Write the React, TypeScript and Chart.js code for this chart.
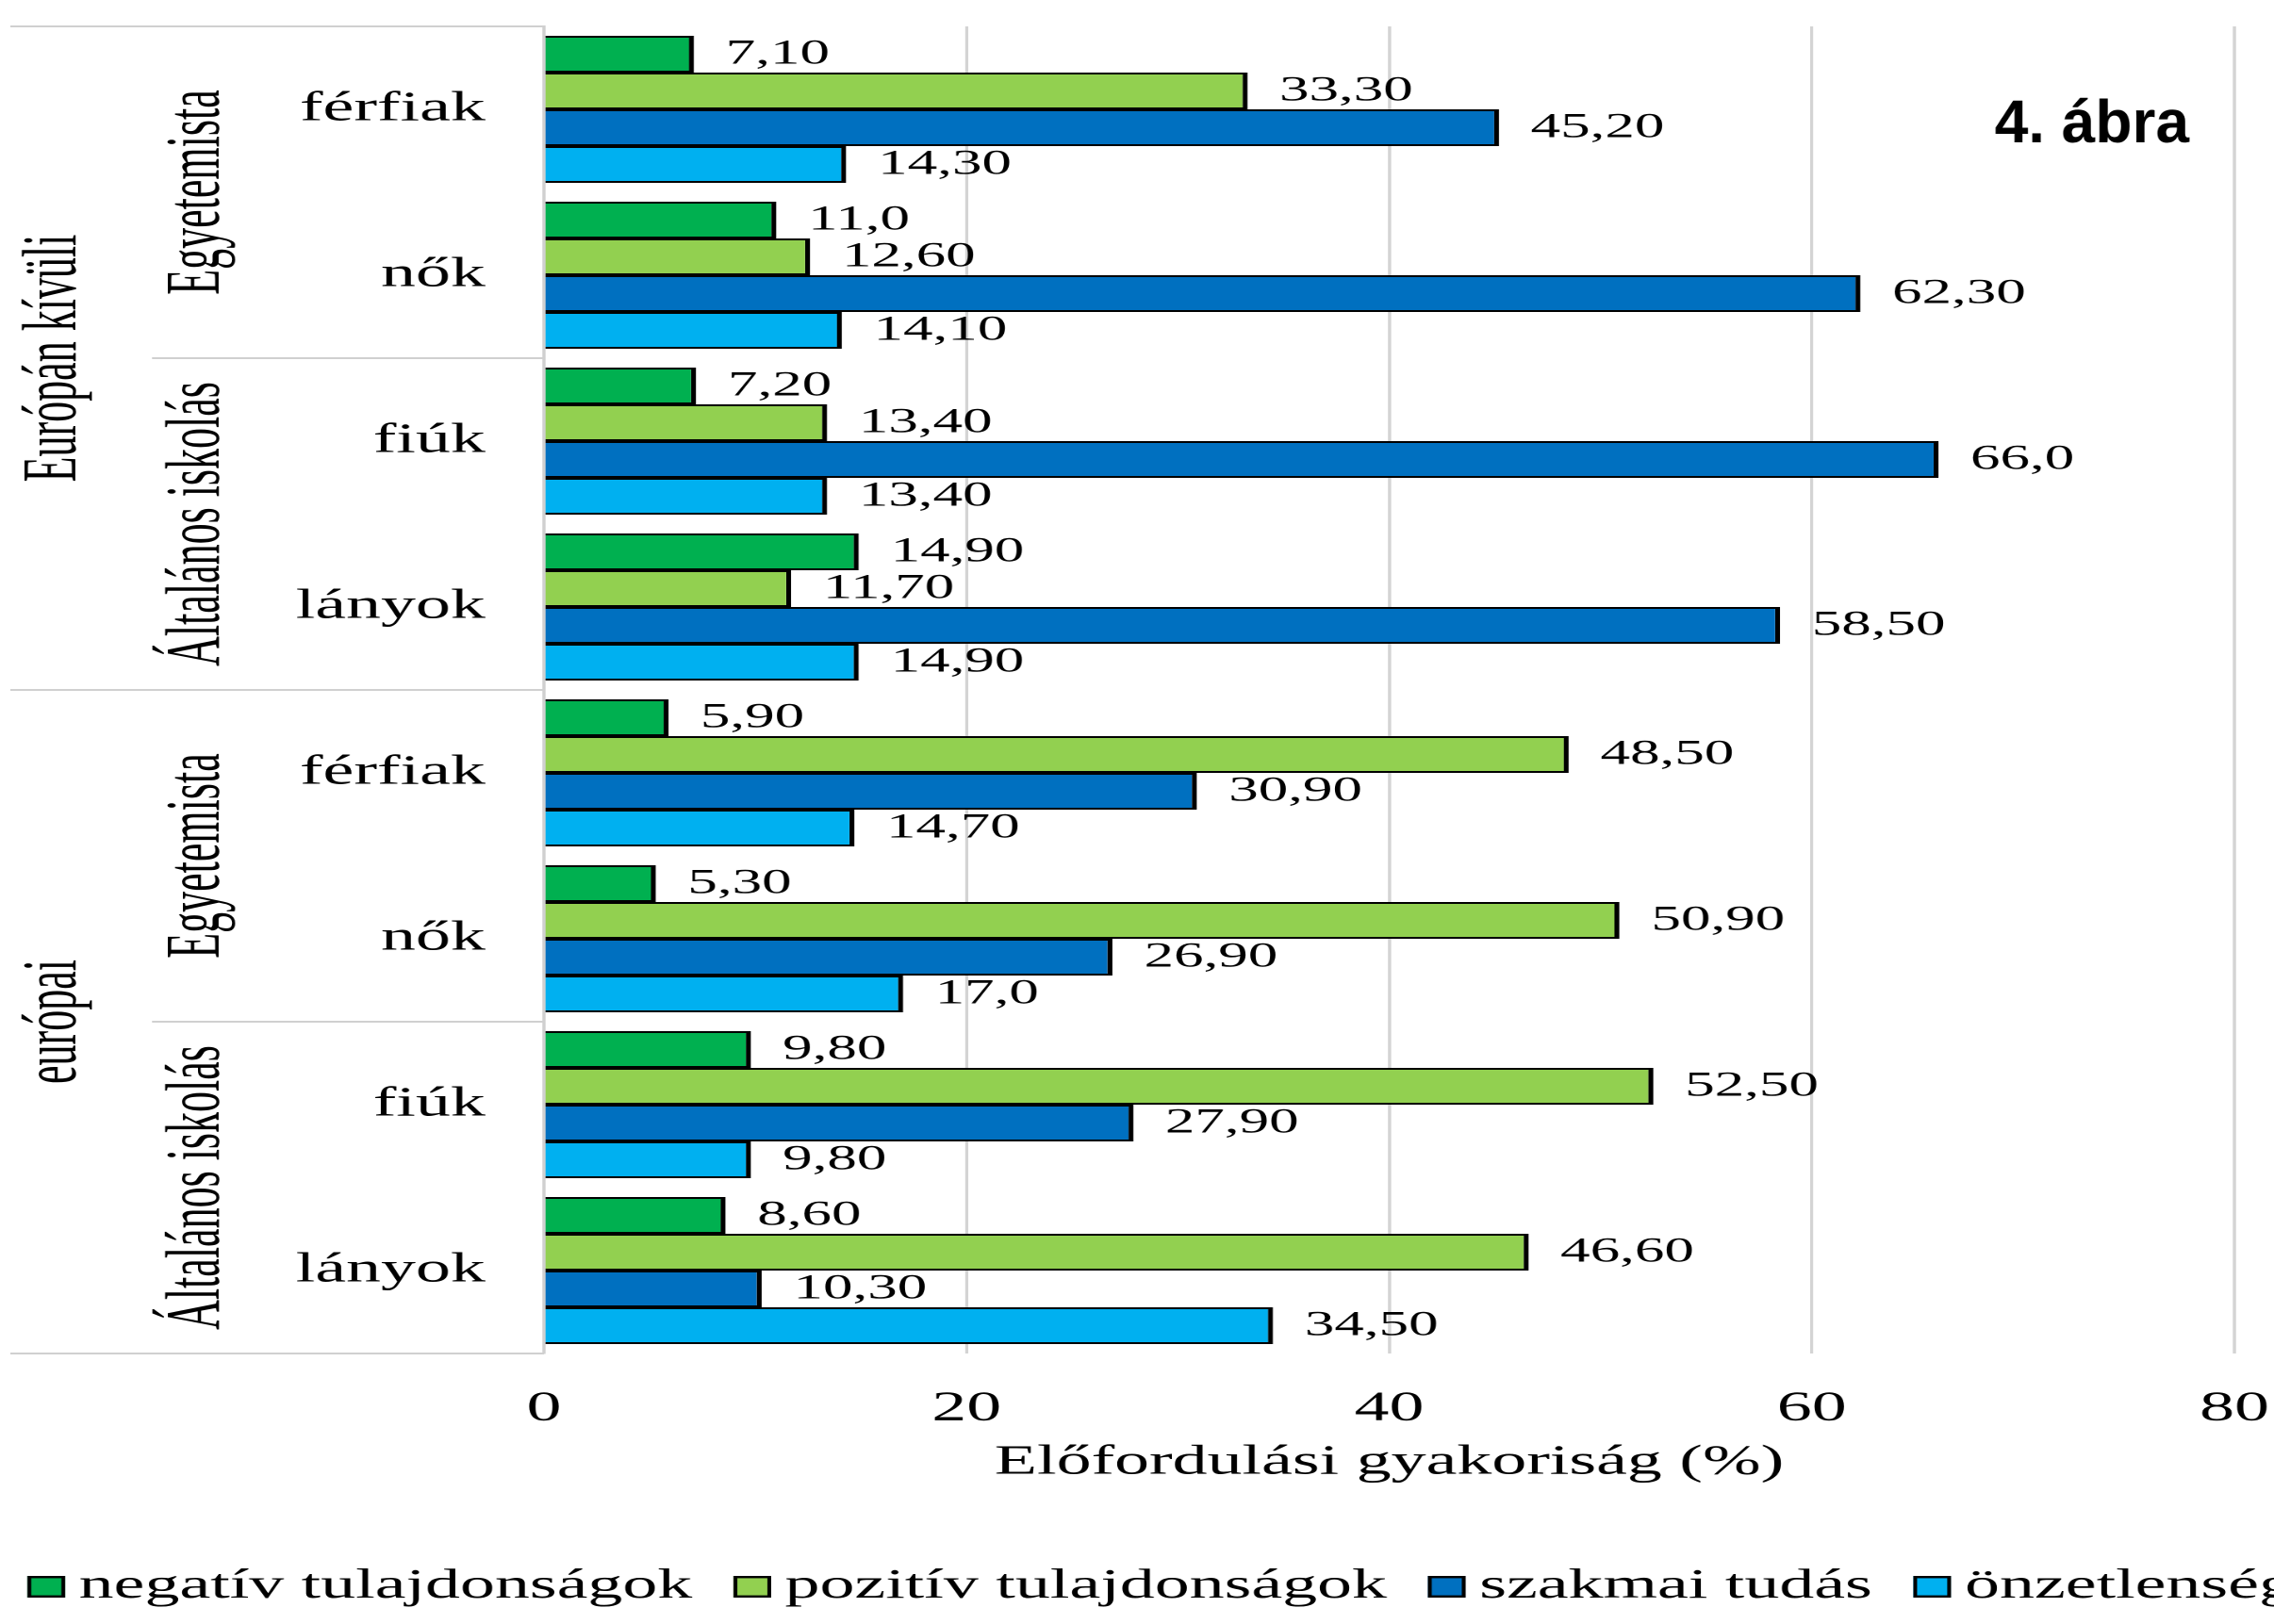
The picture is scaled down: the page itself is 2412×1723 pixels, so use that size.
import React, { useEffect, useRef } from 'react';
import { Chart, registerables } from 'chart.js';

Chart.register(...registerables);

// ---- data ----
const categories = ['férfiak', 'nők', 'fiúk', 'lányok', 'férfiak', 'nők', 'fiúk', 'lányok'];
const schoolGroups = ['Egyetemista', 'Általános iskolás', 'Egyetemista', 'Általános iskolás'];
const regionGroups = ['Európán kívüli', 'európai'];
const seriesNames = ['negatív tulajdonságok', 'pozitív tulajdonságok', 'szakmai tudás', 'önzetlenség'];
const negativ = [7.1, 11.0, 7.2, 14.9, 5.9, 5.3, 9.8, 8.6];
const pozitiv = [33.3, 12.6, 13.4, 11.7, 48.5, 50.9, 52.5, 46.6];
const szakmai = [45.2, 62.3, 66.0, 58.5, 30.9, 26.9, 27.9, 10.3];
const onzetlen = [14.3, 14.1, 13.4, 14.9, 14.7, 17.0, 9.8, 34.5];
const seriesColors = ['#00B050', '#92D050', '#0070C0', '#00B0F0'];
const xMin = 0;
const xMax = 80;
const xStep = 20;
const xTitle = 'Előfordulási gyakoriság (%)';
const figureTitle = '4. ábra';

// ---- layout ----
const W = 1436;
const H = 1723;
const S = 2412 / W;
const SERIF = '"Liberation Serif", "Times New Roman", serif';

const fmt = (v: number) => (Number.isInteger(v) ? v.toFixed(1) : v.toFixed(2)).replace('.', ',');

const decorPlugin = {
  id: 'decor',
  afterDraw(chart: any) {
    const ctx: CanvasRenderingContext2D = chart.ctx;
    const ys = chart.scales.y;
    const area = chart.chartArea;
    const n = categories.length;
    const edge = (i: number) => ys.getPixelForValue(i - 0.5);
    ctx.save();

    // separators in label area
    ctx.strokeStyle = '#d0d0d0';
    ctx.lineWidth = 2;
    for (let i = 0; i <= n; i += 2) {
      const yy = edge(i);
      const x0 = i % 4 === 0 ? 6.5 : 96;
      ctx.beginPath();
      ctx.moveTo(x0, yy);
      ctx.lineTo(area.left, yy);
      ctx.stroke();
    }

    ctx.fillStyle = '#000';
    ctx.font = `44px ${SERIF}`;
    ctx.textAlign = 'center';
    ctx.textBaseline = 'alphabetic';
    const rotated = (t: string, bx: number, cy: number) => {
      ctx.save();
      ctx.translate(bx, cy);
      ctx.scale(1.1, 1);
      ctx.rotate(-Math.PI / 2);
      ctx.fillText(t, 0, 0);
      ctx.restore();
    };
    schoolGroups.forEach((t, g) => {
      rotated(t, 138, (edge(2 * g) + edge(2 * g + 2)) / 2);
    });
    regionGroups.forEach((t, g) => {
      rotated(t, 47.6, (edge(4 * g) + edge(4 * g + 4)) / 2);
    });

    // data labels
    ctx.font = `37.5px ${SERIF}`;
    ctx.textAlign = 'left';
    ctx.textBaseline = 'middle';
    chart.data.datasets.forEach((ds: any, di: number) => {
      const meta = chart.getDatasetMeta(di);
      meta.data.forEach((bar: any, i: number) => {
        ctx.fillText(fmt(ds.data[i]), bar.x + 20, bar.y);
      });
    });

    // legend
    let x = 17.3;
    const by = 1672;
    const bh = 23;
    const bw = 23.8;
    ctx.font = `44px ${SERIF}`;
    ctx.textBaseline = 'alphabetic';
    chart.data.datasets.forEach((ds: any) => {
      ctx.fillStyle = ds.backgroundColor;
      ctx.fillRect(x, by, bw, bh);
      ctx.lineWidth = 2.4;
      ctx.strokeStyle = '#000';
      ctx.strokeRect(x + 1.2, by + 1.2, bw - 2.4, bh - 2.4);
      ctx.fillStyle = '#000';
      ctx.fillText(ds.label, x + 32.5, 1695);
      x += 32.5 + ctx.measureText(ds.label).width + 26;
    });

    // figure title (not stretched)
    ctx.save();
    ctx.scale(1 / S, 1);
    ctx.font = 'bold 64px "Liberation Sans", Arial, sans-serif';
    ctx.textAlign = 'right';
    ctx.fillStyle = '#000';
    ctx.fillText(figureTitle, 2322, 151);
    ctx.restore();

    ctx.restore();
  },
};

export default function App() {
  const ref = useRef<HTMLCanvasElement>(null);
  useEffect(() => {
    const values = [negativ, pozitiv, szakmai, onzetlen];
    const chart = new Chart(ref.current as HTMLCanvasElement, {
      type: 'bar',
      data: {
        labels: categories,
        datasets: seriesNames.map((name, i) => ({
          label: name,
          data: values[i],
          backgroundColor: seriesColors[i],
          borderColor: '#000',
          borderWidth: { top: 2, bottom: 2, right: 3.2, left: 0 } as any,
          borderSkipped: false as any,
          categoryPercentage: 0.886,
          barPercentage: 1,
        })),
      },
      options: {
        animation: false,
        responsive: true,
        maintainAspectRatio: false,
        devicePixelRatio: 2,
        indexAxis: 'y',
        layout: { padding: { top: 28, right: 25, bottom: H - 1578.4, left: 0 } },
        plugins: {
          legend: { display: false },
          tooltip: { enabled: false },
          title: { display: false },
        },
        scales: {
          x: {
            type: 'linear',
            min: xMin,
            max: xMax,
            ticks: { stepSize: xStep, font: { family: SERIF, size: 44 }, color: '#000', padding: 32.6 },
            grid: { color: '#d4d4d4', lineWidth: 2, drawTicks: false },
            border: { display: false },
            title: {
              display: true,
              text: xTitle,
              font: { family: SERIF, size: 44 },
              color: '#000',
              padding: { top: 0, bottom: 0 },
            },
            afterFit: (s: any) => {
              s.height = 142.4;
              s.paddingLeft = 0;
              s.paddingRight = 0;
            },
          },
          y: {
            ticks: { font: { family: SERIF, size: 44 }, color: '#000', padding: 37 },
            grid: { display: false, drawTicks: false },
            border: { display: true, color: '#d0d0d0', width: 2 },
            afterFit: (s: any) => {
              s.width = 343.5;
              s.paddingTop = 0;
              s.paddingBottom = 0;
            },
          },
        },
      } as any,
      plugins: [decorPlugin],
    });
    return () => chart.destroy();
  }, []);

  return (
    <div
      style={{
        position: 'absolute',
        left: 0,
        top: 0,
        width: 2412,
        height: 1723,
        overflow: 'hidden',
        background: '#fff',
      }}
    >
      <div
        style={{
          position: 'relative',
          width: W,
          height: H,
          transform: `scaleX(${S})`,
          transformOrigin: '0 0',
        }}
      >
        <canvas ref={ref} />
      </div>
    </div>
  );
}
